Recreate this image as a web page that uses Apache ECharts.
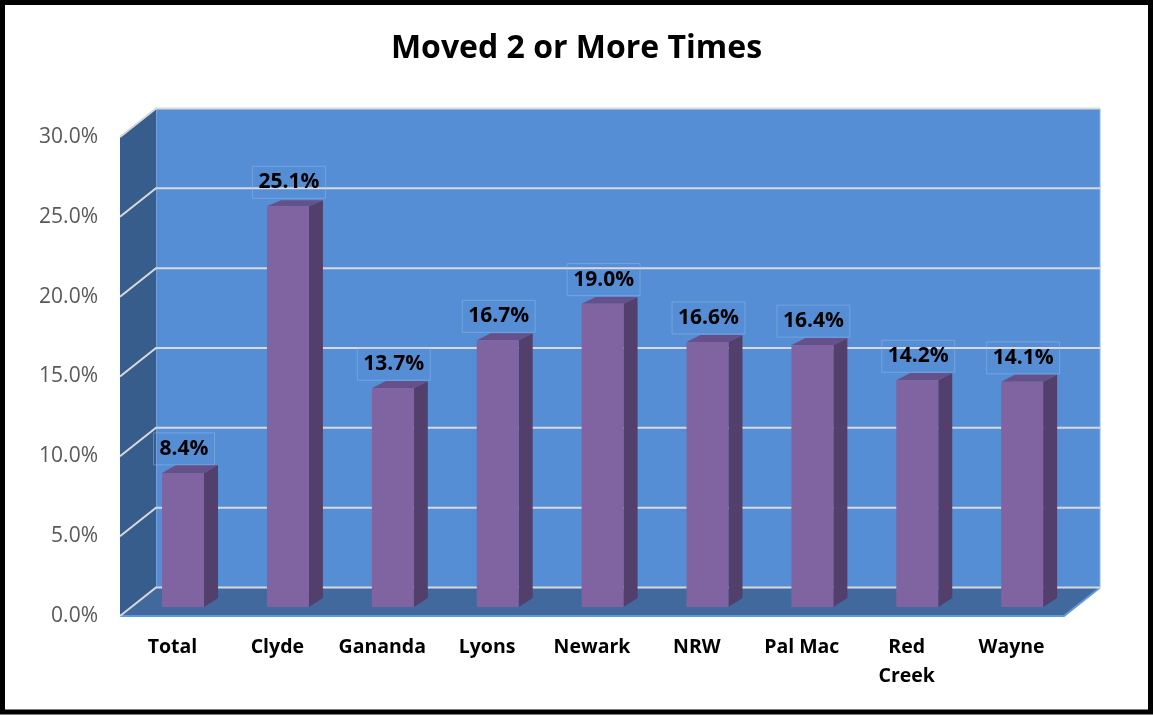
<!DOCTYPE html>
<html>
<head>
<meta charset="utf-8">
<script src="https://cdn.jsdelivr.net/npm/echarts@6/dist/echarts.min.js"></script>
<style>
html,body{margin:0;padding:0;background:#fff;}
#chart{width:1153px;height:715px;}
</style>
</head>
<body>
<div id="chart"></div>
<script>
// ---- data ----
var titleText = 'Moved 2 or More Times';
var categories = ['Total', 'Clyde', 'Gananda', 'Lyons', 'Newark', 'NRW', 'Pal Mac', 'Red Creek', 'Wayne'];
var values = [8.4, 25.1, 13.7, 16.7, 19.0, 16.6, 16.4, 14.2, 14.1];
var yTicks = [0, 5, 10, 15, 20, 25, 30];

// ---- 3D styling constants ----
var DX = 36, DY = -28.5;          // wall depth
var BOX = 10.6, BOY = -9;         // bar front offset from front plane
var BDX = 14;                     // bar depth x
function bdy(y) { return -6 - 3 * (y - 206) / 401; } // bar depth y (slight perspective)

var chart = echarts.init(document.getElementById('chart'));

function wallsRender(params, api) {
  var cs = params.coordSys;
  var x = cs.x, y = cs.y, w = cs.width, h = cs.height;
  var yb = y + h;
  var children = [];
  children.push({type: 'rect', shape: {x: x + DX, y: y + DY, width: w, height: h},
    style: {fill: '#558ED5', stroke: '#8DB4E2', lineWidth: 1}});
  children.push({type: 'polygon', shape: {points: [[x, y], [x + DX, y + DY], [x + DX, yb + DY], [x, yb]]},
    style: {fill: '#375D8C'}});
  children.push({type: 'polygon', shape: {points: [[x, yb], [x + DX, yb + DY], [x + w + DX, yb + DY], [x + w, yb]]},
    style: {fill: '#41699E'}});
  children.push({type: 'polyline', shape: {points: [[x, yb], [x + w, yb], [x + w + DX, yb + DY]]},
    style: {stroke: '#5C9AE2', lineWidth: 2, fill: null}});
  yTicks.forEach(function (t) {
    var py = api.coord([0, t])[1];
    children.push({type: 'polyline', shape: {points: [[x, py], [x + DX, py + DY], [x + w + DX, py + DY]]},
      style: {stroke: '#D9D9D9', lineWidth: 2, fill: null}});
  });
  return {type: 'group', children: children};
}

function barsRender(params, api) {
  var idx = api.value(0), v = api.value(1);
  var p0 = api.coord([idx, 0]);
  var p1 = api.coord([idx, v]);
  var bw = api.size([1, 0])[0] * 0.4;
  var cx = p0[0] + BOX;
  var xl = cx - bw / 2, xr = cx + bw / 2;
  var ybot = p0[1] + BOY, ytop = p1[1] + BOY;
  var dt = bdy(ytop), db = bdy(ybot);
  return {type: 'group', children: [
    {type: 'polygon', shape: {points: [[xr, ytop], [xr + BDX, ytop + dt], [xr + BDX, ybot + db], [xr, ybot]]},
      style: {fill: '#523F6B'}},
    {type: 'polygon', shape: {points: [[xl, ytop], [xl + BDX, ytop + dt], [xr + BDX, ytop + dt], [xr, ytop]]},
      style: {fill: '#66508A'}},
    {type: 'rect', shape: {x: xl, y: ytop, width: bw, height: ybot - ytop},
      style: {fill: '#8064A2'}},
    {type: 'text', x: cx + 1, y: ytop - 24,
      style: {text: v.toFixed(1) + '%', fill: '#000', font: 'bold 21px "Open Sans"',
        align: 'center', verticalAlign: 'middle',
        borderColor: 'rgba(150,190,235,0.45)', borderWidth: 1, padding: [6, 6, 5, 6]}}
  ]};
}

var option = {
  animation: false,
  backgroundColor: '#fff',
  title: {text: titleText, left: 'center', top: 28,
    textStyle: {fontFamily: 'Open Sans', fontWeight: 'bold', fontSize: 32, color: '#000'}},
  grid: {left: 120, right: 89, top: 137, bottom: 99, containLabel: false},
  xAxis: {type: 'category', data: categories,
    axisLine: {show: false}, axisTick: {show: false}, splitLine: {show: false},
    axisLabel: {interval: 0, margin: 17, color: '#000', fontFamily: 'Open Sans', fontWeight: 'bold', fontSize: 19.5,
      lineHeight: 29, formatter: function (v) { return v.length > 8 ? v.replace(' ', '\n') : v; }}},
  yAxis: {type: 'value', min: 0, max: 30, interval: 5,
    axisLine: {show: false}, axisTick: {show: false}, splitLine: {show: false},
    axisLabel: {margin: 22, color: '#595959', fontFamily: 'Open Sans', fontSize: 21,
      formatter: function (v) { return v.toFixed(1) + '%'; }}},
  series: [
    {type: 'custom', renderItem: wallsRender, data: [[0, 0]], z: 1, clip: false, silent: true},
    {type: 'custom', renderItem: barsRender, z: 5, clip: false,
      data: values.map(function (v, i) { return [i, v]; })}
  ],
  graphic: [{type: 'rect', z: 100, shape: {x: 2.5, y: 2.5, width: 1148, height: 709.5},
    style: {fill: null, stroke: '#000', lineWidth: 5}}]
};
chart.setOption(option);
</script>
</body>
</html>
